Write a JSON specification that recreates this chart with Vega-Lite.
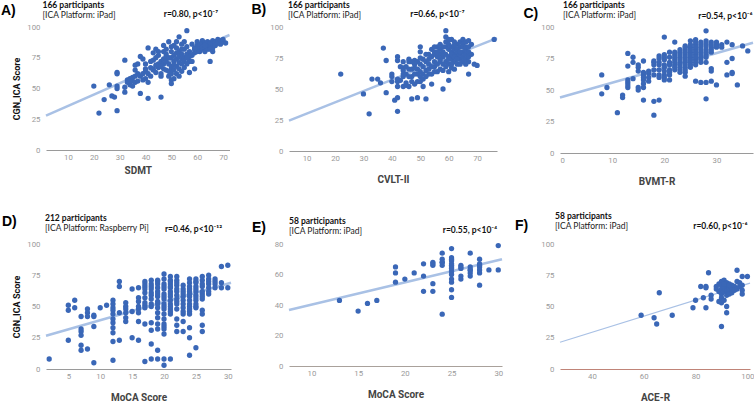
{
"$schema": "https://vega.github.io/schema/vega-lite/v6.json",
"padding": 0,
"background": "#ffffff",
"columns": 3,
"align": "none",
"bounds": "flush",
"spacing": {"row": 91, "column": 58},
"config": {
 "view": {"stroke": null},
 "font": "Lato",
 "axis": {"labelFont": "Roboto", "labelFontSize": 7.8, "labelColor": "#9a9a9a", "gridColor": "#e4e4e4", "ticks": false, "domain": false, "titleFont": "Roboto", "titleFontWeight": "bold"},
 "axisBottom": {"domain": true, "domainColor": "#9a9a9a", "domainWidth": 1.2, "labelPadding": 3, "titleFontSize": 10, "titleColor": "#444444", "titlePadding": 13},
 "axisLeft": {"labelPadding": 6, "titleFontSize": 9, "titleColor": "#111111", "titlePadding": 5},
 "axisTop": {"labels": false, "grid": false, "titleAngle": 0, "titleFont": "Lato", "titleFontSize": 8.5, "titleFontWeight": "bold", "titleColor": "#111111", "titleAlign": "right", "titleBaseline": "middle"},
 "axisRight": {"labels": false, "grid": false, "titleAngle": 0, "titleFont": "Liberation Sans", "titleFontSize": 14, "titleFontWeight": "bold", "titleColor": "#000000", "titleAlign": "left", "titleBaseline": "middle"},
 "title": {"anchor": "start", "frame": "group", "font": "Lato", "fontSize": 8.5, "fontWeight": "bold", "color": "#111111", "subtitleFont": "Lato", "subtitleFontSize": 8.5, "subtitleColor": "#222222", "subtitlePadding": 2},
 "circle": {"size": 28, "opacity": 1, "color": "#3a67b7"},
 "line": {"color": "#a9c1e5", "strokeWidth": 2.5}
},
"datasets": {
 "trendA": [{"x":1.5,"y":28},{"x":72.5,"y":93.5}],
 "trendB": [{"x":3.8,"y":24.5},{"x":77,"y":91}],
 "trendC": [{"x":0,"y":44},{"x":37,"y":87.5}],
 "trendD": [{"x":1.5,"y":26.6},{"x":30.5,"y":69}],
 "trendE": [{"x":7.6,"y":36.7},{"x":30.4,"y":70}],
 "trendF": [{"x":27.7,"y":21.4},{"x":101,"y":68.7}],
 "A": [{"x":20,"y":52},{"x":22,"y":30},{"x":24,"y":41},{"x":26,"y":53},{"x":27,"y":44},{"x":28,"y":43},{"x":29,"y":32},{"x":29,"y":63},{"x":29,"y":62},{"x":29,"y":52},{"x":29,"y":50},{"x":32,"y":73},{"x":32,"y":51},{"x":32,"y":47},{"x":33,"y":57},{"x":33,"y":55},{"x":34,"y":58},{"x":34,"y":53},{"x":35,"y":56},{"x":35,"y":59},{"x":36,"y":55},{"x":36,"y":65},{"x":36,"y":69},{"x":37,"y":56},{"x":37,"y":70},{"x":38,"y":76},{"x":38,"y":60},{"x":38,"y":46},{"x":39,"y":62},{"x":39,"y":74},{"x":39,"y":57},{"x":40,"y":64},{"x":40,"y":70},{"x":40,"y":66},{"x":41,"y":83},{"x":41,"y":55},{"x":41,"y":42},{"x":41,"y":62},{"x":42,"y":72},{"x":42,"y":67},{"x":43,"y":65},{"x":43,"y":79},{"x":43,"y":66},{"x":44,"y":75},{"x":44,"y":63},{"x":44,"y":82},{"x":45,"y":67},{"x":45,"y":70},{"x":45,"y":77},{"x":46,"y":62},{"x":46,"y":43},{"x":46,"y":60},{"x":46,"y":72},{"x":47,"y":74},{"x":47,"y":80},{"x":47,"y":66},{"x":48,"y":65},{"x":48,"y":82},{"x":48,"y":78},{"x":48,"y":76},{"x":49,"y":88},{"x":49,"y":70},{"x":49,"y":64},{"x":49,"y":60},{"x":50,"y":57},{"x":50,"y":54},{"x":50,"y":75},{"x":50,"y":68},{"x":50,"y":80},{"x":50,"y":66},{"x":50,"y":62},{"x":51,"y":72},{"x":51,"y":85},{"x":51,"y":77},{"x":51,"y":69},{"x":51,"y":65},{"x":52,"y":83},{"x":52,"y":74},{"x":52,"y":79},{"x":52,"y":68},{"x":53,"y":92},{"x":53,"y":80},{"x":53,"y":76},{"x":53,"y":71},{"x":54,"y":86},{"x":54,"y":74},{"x":54,"y":78},{"x":54,"y":70},{"x":55,"y":88},{"x":55,"y":67},{"x":55,"y":82},{"x":55,"y":75},{"x":56,"y":97},{"x":56,"y":84},{"x":56,"y":78},{"x":57,"y":63},{"x":57,"y":72},{"x":57,"y":80},{"x":58,"y":72},{"x":58,"y":86},{"x":59,"y":83},{"x":59,"y":79},{"x":60,"y":85},{"x":60,"y":82},{"x":60,"y":88},{"x":61,"y":80},{"x":61,"y":84},{"x":62,"y":82},{"x":62,"y":89},{"x":62,"y":86},{"x":63,"y":83},{"x":63,"y":87},{"x":63,"y":80},{"x":64,"y":85},{"x":64,"y":82},{"x":64,"y":88},{"x":65,"y":72},{"x":65,"y":85},{"x":65,"y":87},{"x":66,"y":86},{"x":66,"y":89},{"x":66,"y":83},{"x":67,"y":88},{"x":67,"y":85},{"x":68,"y":87},{"x":68,"y":90},{"x":69,"y":86},{"x":69,"y":89},{"x":70,"y":88},{"x":71,"y":87},{"x":70,"y":90},{"x":59,"y":66},{"x":47,"y":70},{"x":48,"y":72},{"x":49,"y":75},{"x":52,"y":62},{"x":53,"y":66},{"x":54,"y":64},{"x":55,"y":72},{"x":56,"y":70},{"x":51,"y":58},{"x":53,"y":60},{"x":46,"y":68},{"x":44,"y":69},{"x":42,"y":60},{"x":40,"y":58},{"x":37,"y":62},{"x":36,"y":60},{"x":35,"y":52},{"x":34,"y":56},{"x":58,"y":77},{"x":57,"y":76},{"x":61,"y":86},{"x":62,"y":84},{"x":63,"y":85},{"x":65,"y":82},{"x":66,"y":80},{"x":60,"y":80},{"x":59,"y":82},{"x":45,"y":80},{"x":43,"y":73},{"x":47,"y":85},{"x":50,"y":84},{"x":52,"y":88},{"x":54,"y":82},{"x":56,"y":75}],
 "B": [{"x":22,"y":62},{"x":30,"y":46},{"x":32,"y":30},{"x":33,"y":58},{"x":35,"y":58},{"x":36,"y":55},{"x":37,"y":83},{"x":38,"y":73},{"x":38,"y":47},{"x":40,"y":62},{"x":40,"y":60},{"x":40,"y":56},{"x":41,"y":41},{"x":42,"y":43},{"x":42,"y":32},{"x":42,"y":76},{"x":42,"y":73},{"x":42,"y":58},{"x":42,"y":56},{"x":42,"y":52},{"x":44,"y":67},{"x":44,"y":65},{"x":44,"y":60},{"x":44,"y":52},{"x":44,"y":62},{"x":45,"y":68},{"x":45,"y":55},{"x":45,"y":53},{"x":46,"y":74},{"x":46,"y":72},{"x":46,"y":66},{"x":46,"y":52},{"x":47,"y":42},{"x":47,"y":72},{"x":47,"y":60},{"x":47,"y":56},{"x":48,"y":73},{"x":48,"y":70},{"x":48,"y":54},{"x":49,"y":43},{"x":49,"y":72},{"x":49,"y":66},{"x":49,"y":62},{"x":50,"y":84},{"x":50,"y":80},{"x":50,"y":70},{"x":50,"y":64},{"x":50,"y":56},{"x":51,"y":52},{"x":51,"y":68},{"x":51,"y":62},{"x":51,"y":74},{"x":52,"y":42},{"x":52,"y":78},{"x":52,"y":72},{"x":52,"y":65},{"x":53,"y":66},{"x":53,"y":70},{"x":53,"y":74},{"x":54,"y":82},{"x":54,"y":54},{"x":54,"y":76},{"x":54,"y":62},{"x":55,"y":80},{"x":55,"y":78},{"x":55,"y":72},{"x":55,"y":68},{"x":56,"y":84},{"x":56,"y":76},{"x":56,"y":70},{"x":56,"y":64},{"x":57,"y":82},{"x":57,"y":86},{"x":57,"y":72},{"x":57,"y":78},{"x":58,"y":50},{"x":58,"y":65},{"x":58,"y":80},{"x":58,"y":76},{"x":59,"y":97},{"x":59,"y":92},{"x":59,"y":88},{"x":59,"y":84},{"x":59,"y":78},{"x":59,"y":72},{"x":60,"y":57},{"x":60,"y":86},{"x":60,"y":82},{"x":60,"y":76},{"x":60,"y":70},{"x":60,"y":64},{"x":61,"y":90},{"x":61,"y":84},{"x":61,"y":80},{"x":61,"y":74},{"x":61,"y":67},{"x":62,"y":88},{"x":62,"y":82},{"x":62,"y":78},{"x":62,"y":72},{"x":62,"y":66},{"x":63,"y":86},{"x":63,"y":80},{"x":63,"y":76},{"x":63,"y":70},{"x":64,"y":88},{"x":64,"y":84},{"x":64,"y":78},{"x":64,"y":74},{"x":65,"y":90},{"x":65,"y":86},{"x":65,"y":80},{"x":65,"y":76},{"x":65,"y":72},{"x":66,"y":88},{"x":66,"y":82},{"x":66,"y":78},{"x":66,"y":74},{"x":67,"y":62},{"x":67,"y":89},{"x":67,"y":76},{"x":67,"y":72},{"x":67,"y":80},{"x":68,"y":86},{"x":69,"y":70},{"x":70,"y":69},{"x":76,"y":90},{"x":43,"y":68},{"x":43,"y":57},{"x":44,"y":72},{"x":45,"y":62},{"x":46,"y":60},{"x":47,"y":66},{"x":48,"y":62},{"x":48,"y":67},{"x":49,"y":56},{"x":50,"y":60},{"x":50,"y":75},{"x":51,"y":58},{"x":52,"y":60},{"x":53,"y":62},{"x":53,"y":78},{"x":54,"y":68},{"x":55,"y":64},{"x":55,"y":84},{"x":56,"y":80},{"x":57,"y":66},{"x":57,"y":74},{"x":58,"y":70},{"x":58,"y":84},{"x":59,"y":68},{"x":60,"y":74},{"x":60,"y":90},{"x":61,"y":78},{"x":61,"y":70},{"x":62,"y":85},{"x":62,"y":76},{"x":63,"y":82},{"x":63,"y":74},{"x":64,"y":80},{"x":64,"y":70},{"x":65,"y":84},{"x":66,"y":84},{"x":66,"y":70},{"x":67,"y":84},{"x":68,"y":78}],
 "C": [{"x":8,"y":62},{"x":8,"y":47},{"x":9,"y":52},{"x":11,"y":32},{"x":12,"y":46},{"x":12,"y":44},{"x":13,"y":79},{"x":13,"y":69},{"x":13,"y":58},{"x":13,"y":56},{"x":13,"y":52},{"x":13,"y":54},{"x":14,"y":76},{"x":14,"y":72},{"x":14,"y":59},{"x":15,"y":70},{"x":15,"y":65},{"x":15,"y":52},{"x":15,"y":50},{"x":16,"y":73},{"x":16,"y":62},{"x":16,"y":58},{"x":16,"y":55},{"x":16,"y":52},{"x":16,"y":42},{"x":17,"y":63},{"x":17,"y":60},{"x":17,"y":57},{"x":18,"y":73},{"x":18,"y":72},{"x":18,"y":66},{"x":18,"y":41},{"x":18,"y":30},{"x":19,"y":77},{"x":19,"y":75},{"x":19,"y":70},{"x":19,"y":62},{"x":19,"y":60},{"x":19,"y":42},{"x":20,"y":92},{"x":20,"y":78},{"x":20,"y":74},{"x":20,"y":70},{"x":20,"y":65},{"x":20,"y":62},{"x":20,"y":58},{"x":21,"y":80},{"x":21,"y":76},{"x":21,"y":72},{"x":21,"y":66},{"x":21,"y":62},{"x":21,"y":58},{"x":22,"y":88},{"x":22,"y":78},{"x":22,"y":74},{"x":22,"y":70},{"x":22,"y":66},{"x":23,"y":82},{"x":23,"y":76},{"x":23,"y":72},{"x":23,"y":66},{"x":23,"y":64},{"x":24,"y":85},{"x":24,"y":82},{"x":24,"y":78},{"x":24,"y":76},{"x":24,"y":72},{"x":24,"y":68},{"x":24,"y":64},{"x":24,"y":61},{"x":25,"y":89},{"x":25,"y":84},{"x":25,"y":80},{"x":25,"y":76},{"x":25,"y":72},{"x":25,"y":68},{"x":26,"y":90},{"x":26,"y":86},{"x":26,"y":82},{"x":26,"y":78},{"x":26,"y":74},{"x":26,"y":57},{"x":27,"y":88},{"x":27,"y":84},{"x":27,"y":80},{"x":27,"y":76},{"x":27,"y":72},{"x":27,"y":56},{"x":28,"y":97},{"x":28,"y":89},{"x":28,"y":85},{"x":28,"y":82},{"x":28,"y":78},{"x":28,"y":72},{"x":28,"y":56},{"x":28,"y":43},{"x":29,"y":88},{"x":29,"y":84},{"x":29,"y":80},{"x":29,"y":67},{"x":29,"y":65},{"x":29,"y":57},{"x":30,"y":88},{"x":30,"y":86},{"x":30,"y":84},{"x":30,"y":54},{"x":31,"y":86},{"x":31,"y":84},{"x":32,"y":88},{"x":32,"y":72},{"x":32,"y":62},{"x":33,"y":86},{"x":33,"y":75},{"x":33,"y":64},{"x":33,"y":63},{"x":34,"y":54},{"x":35,"y":85},{"x":36,"y":81},{"x":20,"y":68},{"x":20,"y":60},{"x":21,"y":70},{"x":21,"y":64},{"x":22,"y":76},{"x":22,"y":72},{"x":22,"y":68},{"x":23,"y":80},{"x":23,"y":78},{"x":23,"y":70},{"x":23,"y":68},{"x":24,"y":80},{"x":24,"y":74},{"x":24,"y":70},{"x":24,"y":66},{"x":25,"y":86},{"x":25,"y":82},{"x":25,"y":78},{"x":25,"y":74},{"x":25,"y":70},{"x":26,"y":88},{"x":26,"y":84},{"x":26,"y":80},{"x":26,"y":76},{"x":26,"y":72},{"x":27,"y":86},{"x":27,"y":82},{"x":27,"y":78},{"x":27,"y":74},{"x":28,"y":87},{"x":28,"y":80},{"x":28,"y":76},{"x":29,"y":86},{"x":29,"y":82},{"x":30,"y":85},{"x":19,"y":72},{"x":19,"y":66},{"x":18,"y":70},{"x":18,"y":62},{"x":17,"y":65},{"x":16,"y":60},{"x":16,"y":64},{"x":15,"y":68},{"x":24,"y":84},{"x":26,"y":70},{"x":22,"y":80},{"x":20,"y":76},{"x":23,"y":74}],
 "D": [{"x":2,"y":8},{"x":5,"y":51},{"x":5,"y":47},{"x":5,"y":23},{"x":6,"y":55},{"x":6,"y":49},{"x":7,"y":42},{"x":7,"y":32},{"x":7,"y":30},{"x":7,"y":27},{"x":7,"y":19},{"x":7,"y":15},{"x":8,"y":48},{"x":8,"y":45},{"x":8,"y":42},{"x":8,"y":16},{"x":9,"y":43},{"x":9,"y":42},{"x":9,"y":34},{"x":9,"y":5},{"x":10,"y":49},{"x":11,"y":51},{"x":12,"y":55},{"x":12,"y":52},{"x":12,"y":49},{"x":12,"y":44},{"x":12,"y":37},{"x":12,"y":33},{"x":12,"y":29},{"x":12,"y":22},{"x":12,"y":7},{"x":13,"y":70},{"x":13,"y":66},{"x":13,"y":45},{"x":13,"y":23},{"x":14,"y":53},{"x":14,"y":48},{"x":14,"y":45},{"x":14,"y":41},{"x":14,"y":38},{"x":15,"y":64},{"x":15,"y":46},{"x":15,"y":25},{"x":16,"y":65},{"x":16,"y":57},{"x":16,"y":54},{"x":16,"y":48},{"x":16,"y":38},{"x":16,"y":23},{"x":17,"y":70},{"x":17,"y":68},{"x":17,"y":66},{"x":17,"y":61},{"x":17,"y":57},{"x":17,"y":51},{"x":17,"y":49},{"x":17,"y":36},{"x":17,"y":6},{"x":18,"y":71},{"x":18,"y":68},{"x":18,"y":64},{"x":18,"y":61},{"x":18,"y":56},{"x":18,"y":50},{"x":18,"y":37},{"x":18,"y":31},{"x":18,"y":20},{"x":18,"y":8},{"x":19,"y":71},{"x":19,"y":68},{"x":19,"y":65},{"x":19,"y":62},{"x":19,"y":58},{"x":19,"y":54},{"x":19,"y":49},{"x":19,"y":45},{"x":19,"y":36},{"x":19,"y":32},{"x":19,"y":15},{"x":19,"y":8},{"x":20,"y":76},{"x":20,"y":68},{"x":20,"y":64},{"x":20,"y":60},{"x":20,"y":56},{"x":20,"y":52},{"x":20,"y":48},{"x":20,"y":44},{"x":20,"y":40},{"x":20,"y":36},{"x":20,"y":32},{"x":20,"y":28},{"x":20,"y":8},{"x":20,"y":3},{"x":21,"y":74},{"x":21,"y":71},{"x":21,"y":68},{"x":21,"y":65},{"x":21,"y":62},{"x":21,"y":58},{"x":21,"y":55},{"x":21,"y":52},{"x":21,"y":48},{"x":21,"y":44},{"x":21,"y":8},{"x":22,"y":74},{"x":22,"y":71},{"x":22,"y":67},{"x":22,"y":62},{"x":22,"y":59},{"x":22,"y":56},{"x":22,"y":52},{"x":22,"y":40},{"x":22,"y":35},{"x":22,"y":30},{"x":23,"y":67},{"x":23,"y":64},{"x":23,"y":58},{"x":23,"y":55},{"x":23,"y":52},{"x":23,"y":49},{"x":23,"y":44},{"x":23,"y":38},{"x":23,"y":30},{"x":24,"y":72},{"x":24,"y":69},{"x":24,"y":66},{"x":24,"y":62},{"x":24,"y":58},{"x":24,"y":55},{"x":24,"y":52},{"x":24,"y":46},{"x":24,"y":44},{"x":24,"y":33},{"x":24,"y":25},{"x":24,"y":11},{"x":25,"y":72},{"x":25,"y":69},{"x":25,"y":66},{"x":25,"y":62},{"x":25,"y":59},{"x":25,"y":55},{"x":25,"y":52},{"x":25,"y":49},{"x":25,"y":17},{"x":26,"y":74},{"x":26,"y":71},{"x":26,"y":66},{"x":26,"y":60},{"x":26,"y":56},{"x":26,"y":47},{"x":26,"y":44},{"x":26,"y":35},{"x":26,"y":30},{"x":27,"y":75},{"x":27,"y":72},{"x":27,"y":68},{"x":27,"y":65},{"x":27,"y":60},{"x":28,"y":72},{"x":28,"y":68},{"x":28,"y":65},{"x":29,"y":82},{"x":29,"y":69},{"x":29,"y":65},{"x":30,"y":83},{"x":30,"y":65},{"x":19,"y":70},{"x":19,"y":60},{"x":19,"y":52},{"x":19,"y":41},{"x":20,"y":72},{"x":20,"y":66},{"x":20,"y":58},{"x":20,"y":50},{"x":20,"y":34},{"x":21,"y":70},{"x":21,"y":60},{"x":21,"y":50},{"x":21,"y":46},{"x":22,"y":69},{"x":22,"y":64},{"x":22,"y":54},{"x":22,"y":48},{"x":23,"y":62},{"x":23,"y":60},{"x":23,"y":46},{"x":24,"y":64},{"x":24,"y":60},{"x":24,"y":50},{"x":24,"y":48},{"x":25,"y":64},{"x":25,"y":57},{"x":25,"y":50},{"x":26,"y":68},{"x":26,"y":62},{"x":26,"y":58},{"x":27,"y":70},{"x":27,"y":62},{"x":18,"y":66},{"x":18,"y":59},{"x":18,"y":52},{"x":17,"y":64},{"x":17,"y":53},{"x":16,"y":50},{"x":16,"y":45},{"x":12,"y":40},{"x":12,"y":47},{"x":14,"y":50},{"x":28,"y":70},{"x":21,"y":66},{"x":25,"y":70}],
 "E": [{"x":13,"y":43},{"x":15,"y":36},{"x":16,"y":41},{"x":17,"y":43},{"x":19,"y":65},{"x":19,"y":61},{"x":19,"y":55},{"x":20,"y":57},{"x":21,"y":61},{"x":22,"y":67},{"x":22,"y":59},{"x":22,"y":49},{"x":23,"y":68},{"x":23,"y":66},{"x":23,"y":54},{"x":23,"y":49},{"x":24,"y":74},{"x":24,"y":70},{"x":24,"y":68},{"x":24,"y":66},{"x":24,"y":34},{"x":25,"y":77},{"x":25,"y":71},{"x":25,"y":69},{"x":25,"y":67},{"x":25,"y":65},{"x":25,"y":62},{"x":25,"y":60},{"x":25,"y":57},{"x":25,"y":55},{"x":25,"y":50},{"x":25,"y":45},{"x":26,"y":66},{"x":26,"y":64},{"x":26,"y":59},{"x":26,"y":57},{"x":27,"y":74},{"x":27,"y":65},{"x":27,"y":63},{"x":27,"y":61},{"x":27,"y":59},{"x":28,"y":70},{"x":28,"y":67},{"x":28,"y":65},{"x":28,"y":63},{"x":28,"y":61},{"x":28,"y":53},{"x":29,"y":63},{"x":30,"y":79},{"x":30,"y":63},{"x":25,"y":66},{"x":25,"y":64},{"x":24,"y":68},{"x":26,"y":65},{"x":27,"y":63},{"x":28,"y":66},{"x":25,"y":70},{"x":23,"y":67}],
 "F": [{"x":59,"y":43},{"x":64,"y":41},{"x":65,"y":36},{"x":66,"y":61},{"x":71,"y":43},{"x":79,"y":49},{"x":80,"y":55},{"x":82,"y":66},{"x":83,"y":57},{"x":84,"y":66},{"x":84,"y":65},{"x":84,"y":49},{"x":85,"y":77},{"x":86,"y":59},{"x":86,"y":56},{"x":88,"y":66},{"x":88,"y":64},{"x":89,"y":62},{"x":89,"y":68},{"x":89,"y":54},{"x":90,"y":70},{"x":90,"y":67},{"x":90,"y":64},{"x":90,"y":60},{"x":90,"y":57},{"x":90,"y":53},{"x":90,"y":34},{"x":91,"y":71},{"x":91,"y":66},{"x":91,"y":62},{"x":91,"y":55},{"x":92,"y":69},{"x":92,"y":66},{"x":92,"y":63},{"x":92,"y":59},{"x":92,"y":50},{"x":92,"y":45},{"x":93,"y":68},{"x":93,"y":65},{"x":93,"y":62},{"x":93,"y":60},{"x":94,"y":67},{"x":94,"y":64},{"x":94,"y":61},{"x":95,"y":66},{"x":95,"y":63},{"x":96,"y":79},{"x":96,"y":70},{"x":96,"y":64},{"x":97,"y":69},{"x":97,"y":66},{"x":98,"y":74},{"x":98,"y":67},{"x":98,"y":63},{"x":98,"y":60},{"x":100,"y":74},{"x":91,"y":68},{"x":93,"y":67}]
},
"concat": [
 {"width": 183.5, "height": 123,
  "title": {"text": "166 participants", "subtitle": "[ICA Platform: iPad]", "dx": -3.5, "offset": -16.5},
  "layer": [
   {"data": {"name": "trendA"}, "mark": "line", "encoding": {
     "x": {"field": "x", "type": "quantitative", "scale": {"domain": [1.5, 72.5], "nice": false, "zero": false}, "axis": {"orient": "top", "title": "r=0.80, p<10⁻⁷", "titleX": 171.5, "titleY": -13.7}},
     "y": {"field": "y", "type": "quantitative", "scale": {"domain": [0, 100], "nice": false}, "axis": {"orient": "right", "title": "A)", "titleX": -229, "titleY": -17}}}},
   {"data": {"name": "A"}, "mark": "circle", "encoding": {
     "x": {"field": "x", "type": "quantitative", "scale": {"domain": [1.5, 72.5], "nice": false, "zero": false}, "axis": {"orient": "bottom", "title": "SDMT", "titlePadding": 5, "values": [10, 20, 30, 40, 50, 60, 70]}},
     "y": {"field": "y", "type": "quantitative", "scale": {"domain": [0, 100], "nice": false}, "axis": {"orient": "left", "title": "CGN_ICA Score", "values": [0, 25, 50, 75, 100]}}}}
  ],
  "resolve": {"axis": {"x": "independent", "y": "independent"}}},
 {"width": 208, "height": 124,
  "title": {"text": "166 participants", "subtitle": "[ICA Platform: iPad]", "dx": -1, "offset": -17.5},
  "layer": [
   {"data": {"name": "trendB"}, "mark": "line", "encoding": {
     "x": {"field": "x", "type": "quantitative", "scale": {"domain": [3.8, 77], "nice": false, "zero": false}, "axis": {"orient": "top", "title": "r=0.66, p<10⁻⁷", "titleX": 175, "titleY": -14}},
     "y": {"field": "y", "type": "quantitative", "scale": {"domain": [0, 100], "nice": false}, "axis": {"orient": "right", "title": "B)", "titleX": -246, "titleY": -18}}}},
   {"data": {"name": "B"}, "mark": "circle", "encoding": {
     "x": {"field": "x", "type": "quantitative", "scale": {"domain": [3.8, 77], "nice": false, "zero": false}, "axis": {"orient": "bottom", "title": "CVLT-II", "values": [10, 20, 30, 40, 50, 60, 70]}},
     "y": {"field": "y", "type": "quantitative", "scale": {"domain": [0, 100], "nice": false}, "axis": {"orient": "left", "title": null, "values": [0, 25, 50, 75, 100]}}}}
  ],
  "resolve": {"axis": {"x": "independent", "y": "independent"}}},
 {"width": 193, "height": 126,
  "title": {"text": "166 participants", "subtitle": "[ICA Platform: iPad]", "dx": 3, "offset": -13.5},
  "layer": [
   {"data": {"name": "trendC"}, "mark": "line", "encoding": {
     "x": {"field": "x", "type": "quantitative", "scale": {"domain": [0, 37], "nice": false, "zero": false}, "axis": {"orient": "top", "title": "r=0.54, p<10⁻⁶", "titleX": 192, "titleY": -12}},
     "y": {"field": "y", "type": "quantitative", "scale": {"domain": [0, 100], "nice": false}, "axis": {"orient": "right", "title": "C)", "titleX": -230, "titleY": -14}}}},
   {"data": {"name": "C"}, "mark": "circle", "encoding": {
     "x": {"field": "x", "type": "quantitative", "scale": {"domain": [0, 37], "nice": false, "zero": false}, "axis": {"orient": "bottom", "title": "BVMT-R", "values": [0, 10, 20, 30]}},
     "y": {"field": "y", "type": "quantitative", "scale": {"domain": [0, 100], "nice": false}, "axis": {"orient": "left", "title": null, "values": [0, 25, 50, 75, 100]}}}}
  ],
  "resolve": {"axis": {"x": "independent", "y": "independent"}}},
 {"width": 185, "height": 125,
  "title": {"text": "212 participants", "subtitle": "[ICA Platform: Raspberry Pi]", "dx": -1, "offset": -18.5},
  "layer": [
   {"data": {"name": "trendD"}, "mark": "line", "encoding": {
     "x": {"field": "x", "type": "quantitative", "scale": {"domain": [1.5, 30.5], "nice": false, "zero": false}, "axis": {"orient": "top", "title": "r=0.46, p<10⁻¹²", "titleX": 175.5, "titleY": -16}},
     "y": {"field": "y", "type": "quantitative", "scale": {"domain": [0, 100], "nice": false}, "axis": {"orient": "right", "title": "D)", "titleX": -229.5, "titleY": -23}}}},
   {"data": {"name": "D"}, "mark": "circle", "encoding": {
     "x": {"field": "x", "type": "quantitative", "scale": {"domain": [1.5, 30.5], "nice": false, "zero": false}, "axis": {"orient": "bottom", "title": "MoCA Score", "values": [5, 10, 15, 20, 25, 30]}},
     "y": {"field": "y", "type": "quantitative", "scale": {"domain": [0, 100], "nice": false}, "axis": {"orient": "left", "title": "CGN_ICA Score", "values": [0, 25, 50, 75, 100]}}}}
  ],
  "resolve": {"axis": {"x": "independent", "y": "independent"}}},
 {"width": 213, "height": 122,
  "title": {"text": "58 participants", "subtitle": "[ICA Platform: iPad]", "dx": 0, "offset": -15.5},
  "layer": [
   {"data": {"name": "trendE"}, "mark": "line", "encoding": {
     "x": {"field": "x", "type": "quantitative", "scale": {"domain": [7.6, 30.4], "nice": false, "zero": false}, "axis": {"orient": "top", "title": "r=0.55, p<10⁻⁴", "titleX": 207.5, "titleY": -15}},
     "y": {"field": "y", "type": "quantitative", "scale": {"domain": [0, 80], "nice": false}, "axis": {"orient": "right", "title": "E)", "titleX": -250.5, "titleY": -17}}}},
   {"data": {"name": "E"}, "mark": "circle", "encoding": {
     "x": {"field": "x", "type": "quantitative", "scale": {"domain": [7.6, 30.4], "nice": false, "zero": false}, "axis": {"orient": "bottom", "title": "MoCA Score", "domainColor": "#a9a19b", "values": [10, 15, 20, 25, 30]}},
     "y": {"field": "y", "type": "quantitative", "scale": {"domain": [0, 80], "nice": false}, "axis": {"orient": "left", "title": null, "values": [0, 20, 40, 60, 80]}}}}
  ],
  "resolve": {"axis": {"x": "independent", "y": "independent"}}},
 {"width": 190, "height": 125,
  "title": {"text": "58 participants", "subtitle": "[ICA Platform: iPad]", "dx": -5, "offset": -12.5},
  "layer": [
   {"data": {"name": "trendF"}, "mark": {"type": "line", "strokeWidth": 1.2}, "encoding": {
     "x": {"field": "x", "type": "quantitative", "scale": {"domain": [27.7, 101], "nice": false, "zero": false}, "axis": {"orient": "top", "title": "r=0.60, p<10⁻⁶", "titleX": 187, "titleY": -19}},
     "y": {"field": "y", "type": "quantitative", "scale": {"domain": [0, 100], "nice": false}, "axis": {"orient": "right", "title": "F)", "titleX": -235.5, "titleY": -19}}}},
   {"data": {"name": "F"}, "mark": "circle", "encoding": {
     "x": {"field": "x", "type": "quantitative", "scale": {"domain": [27.7, 101], "nice": false, "zero": false}, "axis": {"orient": "bottom", "title": "ACE-R", "domainColor": "#c08478", "values": [40, 60, 80, 100]}},
     "y": {"field": "y", "type": "quantitative", "scale": {"domain": [0, 100], "nice": false}, "axis": {"orient": "left", "title": null, "values": [0, 25, 50, 75, 100]}}}}
  ],
  "resolve": {"axis": {"x": "independent", "y": "independent"}}}
]
}
